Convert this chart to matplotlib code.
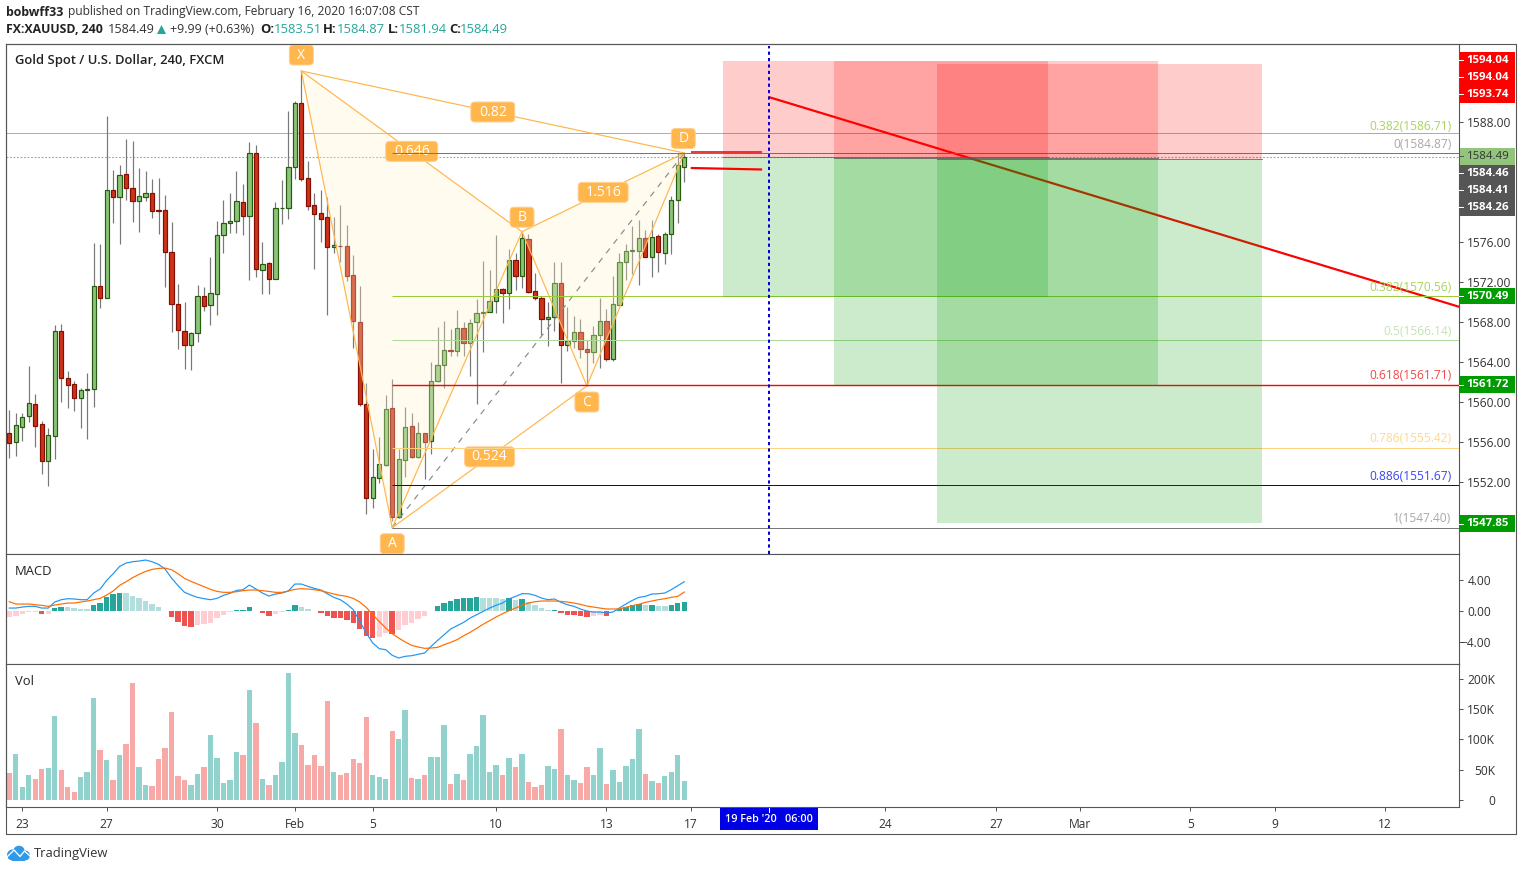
import matplotlib
matplotlib.use("Agg")
import matplotlib.pyplot as plt
from matplotlib.patches import Polygon, Rectangle, Circle, FancyBboxPatch

plt.rcParams['font.family'] = ['Open Sans', 'DejaVu Sans']

W, H = 1522, 871

# ---------- candles ----------
opens = [1556.86,1556.02,1557.52,1558.53,1559.77,1557.76,1554.11,1556.62,1567.09,1562.38,
         1561.78,1560.33,1561.20,1561.23,1571.60,1570.40,1581.13,1580.49,1582.74,1581.33,
         1580.09,1580.49,1580.83,1579.13,1579.13,1575.01,1569.80,1567.09,1565.69,1566.89,
         1570.60,1569.70,1570.76,1576.68,1577.88,1578.08,1579.93,1578.59,1584.84,1573.17,
         1573.91,1572.27,1579.33,1579.33,1583.50,1589.86,1582.34,1579.63,1578.83,1578.43,
         1575.48,1575.62,1575.62,1572.71,1567.99,1559.77,1550.40,1552.41,1553.71,1559.37,
         1548.50,1554.21,1557.56,1554.51,1556.86,1556.06,1562.08,1563.68,1565.15,1565.05,
         1567.39,1565.89,1567.95,1568.92,1568.96,1570.06,1571.30,1570.90,1574.21,1572.57,
         1576.32,1571.10,1570.40,1568.25,1568.50,1571.91,1565.65,1566.05,1566.99,1565.29,
         1564.94,1566.69,1568.09,1564.24,1569.66,1573.97,1575.11,1575.11,1576.42,1574.47,
         1576.62,1574.91,1576.82,1580.13,1583.51]
highs = [1559.20,1558.90,1558.90,1563.61,1560.80,1558.09,1557.39,1567.72,1567.82,1563.11,
         1562.11,1561.40,1562.91,1575.85,1575.75,1588.59,1583.17,1583.67,1586.28,1586.08,
         1583.37,1583.07,1582.27,1582.37,1580.66,1577.95,1571.74,1569.93,1567.02,1571.63,
         1571.46,1574.44,1578.05,1580.16,1580.86,1583.07,1581.77,1585.98,1585.68,1575.95,
         1573.94,1579.96,1582.17,1589.09,1590.09,1593.07,1584.07,1580.86,1581.16,1580.46,
         1578.46,1579.66,1577.65,1574.64,1571.53,1561.91,1555.29,1556.49,1560.70,1562.31,
         1555.29,1559.50,1558.90,1557.99,1556.89,1563.94,1567.52,1568.12,1567.32,1569.13,
         1568.02,1568.32,1570.23,1574.04,1573.14,1576.65,1571.33,1575.25,1574.87,1576.98,
         1576.75,1572.91,1570.53,1569.96,1573.97,1573.94,1569.46,1568.53,1568.32,1566.19,
         1567.59,1570.33,1569.23,1572.54,1574.87,1575.75,1577.55,1578.22,1577.15,1578.15,
         1576.75,1576.98,1580.56,1584.84,1584.87]
lows = [1554.41,1554.58,1556.09,1558.02,1555.49,1552.78,1551.57,1554.28,1560.00,1559.40,
        1559.10,1557.39,1556.29,1559.50,1569.36,1570.33,1577.88,1575.75,1580.16,1577.98,
        1576.98,1580.09,1578.39,1576.78,1571.46,1566.95,1565.25,1563.24,1563.14,1565.95,
        1569.06,1567.65,1568.70,1574.87,1576.88,1576.88,1576.65,1572.14,1572.44,1570.73,
        1570.73,1572.24,1577.75,1578.25,1582.27,1582.10,1579.16,1573.24,1575.95,1568.66,
        1574.90,1573.94,1572.07,1565.35,1559.60,1548.80,1549.40,1551.91,1553.58,1548.06,
        1548.40,1552.48,1554.41,1554.38,1552.31,1554.78,1562.00,1561.33,1564.61,1564.61,
        1564.61,1562.61,1559.77,1564.94,1568.93,1568.86,1567.85,1569.26,1571.13,1571.33,
        1570.83,1570.13,1566.72,1565.62,1567.12,1561.84,1565.12,1565.42,1564.38,1561.78,
        1563.84,1563.38,1564.04,1564.11,1569.63,1572.14,1572.81,1571.66,1574.44,1572.47,
        1572.97,1573.74,1574.74,1577.88,1581.94]
closes = [1555.92,1557.66,1558.47,1559.87,1557.62,1554.11,1556.66,1567.09,1562.34,1561.63,
          1560.33,1561.17,1561.25,1571.56,1570.36,1581.13,1580.49,1582.64,1581.39,1580.09,
          1580.53,1580.83,1579.09,1579.08,1575.01,1569.80,1567.19,1565.69,1566.89,1570.60,
          1569.60,1570.90,1576.72,1577.92,1578.12,1580.03,1578.59,1584.84,1573.27,1573.81,
          1572.27,1579.33,1579.38,1583.44,1589.86,1582.30,1579.59,1578.79,1578.28,1575.48,
          1575.72,1575.58,1572.57,1568.09,1559.77,1550.40,1552.45,1553.75,1559.27,1548.50,
          1554.25,1557.46,1554.51,1556.86,1556.02,1562.08,1563.68,1565.19,1565.05,1567.39,
          1565.89,1567.89,1568.90,1568.98,1570.10,1571.30,1570.86,1574.21,1572.57,1576.42,
          1570.96,1570.40,1568.25,1568.50,1571.91,1565.65,1566.05,1566.99,1565.25,1564.94,
          1566.69,1568.09,1564.24,1569.80,1574.01,1575.11,1575.17,1576.42,1574.47,1576.52,
          1575.01,1576.82,1580.13,1583.64,1584.49]

# ---------- MACD ----------
macd_hist = [-0.77,-0.65,-0.39,-0.17,-0.13,-0.39,-0.39,0.39,0.52,0.52,
             0.39,0.26,0.26,0.77,1.03,1.81,2.19,2.32,2.24,1.94,
             1.68,1.29,0.90,0.52,0.00,-0.77,-1.42,-1.94,-2.06,-1.81,
             -1.68,-1.55,-0.90,-0.52,-0.17,0.13,0.14,0.52,0.00,-0.26,
             -0.65,-0.39,-0.13,0.13,0.77,0.52,0.26,0.00,-0.26,-0.65,
             -0.90,-0.92,-1.16,-1.55,-2.32,-3.23,-3.48,-3.35,-2.84,-2.97,
             -2.45,-1.81,-1.55,-1.03,-0.65,0.00,0.65,1.03,1.29,1.55,
             1.68,1.70,1.81,1.68,1.68,1.68,1.55,1.68,1.42,1.55,
             1.16,0.77,0.39,0.13,0.14,-0.26,-0.52,-0.54,-0.65,-0.77,
             -0.65,-0.52,-0.65,0.00,0.26,0.52,0.77,0.90,0.77,0.79,
             0.65,0.65,0.77,1.03,1.16]
macd_line = [0.34,0.34,0.47,0.56,0.56,0.34,0.34,1.12,1.42,1.55,
             1.51,1.42,1.42,2.28,2.80,3.91,4.77,5.72,6.15,6.32,
             6.41,6.54,6.32,5.98,5.38,4.21,3.23,2.37,2.02,1.72,
             1.55,1.42,1.59,1.98,2.24,2.62,2.71,3.31,2.80,2.28,
             1.89,2.15,2.28,2.54,3.44,3.44,3.14,2.88,2.67,2.19,
             1.72,1.42,0.86,0.13,-1.38,-2.88,-4.17,-4.90,-5.03,-5.76,
             -6.11,-5.89,-5.81,-5.63,-5.46,-4.60,-3.83,-3.10,-2.37,-1.94,
             -1.51,-0.95,-0.52,-0.09,0.34,0.69,0.99,1.51,1.85,2.19,
             2.19,1.98,1.63,1.42,1.51,1.08,0.77,0.56,0.22,-0.04,
             -0.17,-0.17,-0.30,-0.17,0.34,0.86,1.33,1.72,1.85,2.15,
             2.19,2.28,2.71,3.23,3.74]
signal_line = [1.16,0.86,0.86,0.86,0.77,0.69,0.56,0.73,0.86,0.99,
               0.99,1.12,1.25,1.42,1.59,2.02,2.54,3.27,3.74,4.26,
               4.69,5.07,5.33,5.46,5.50,5.29,4.77,4.17,3.78,3.44,
               3.10,2.75,2.49,2.37,2.37,2.45,2.58,2.67,2.67,2.58,
               2.49,2.37,2.37,2.54,2.75,2.84,2.80,2.71,2.58,2.37,
               2.15,1.98,1.85,1.59,1.12,0.43,-0.52,-1.38,-2.24,-2.97,
               -3.53,-4.04,-4.47,-4.69,-4.86,-4.82,-4.73,-4.39,-4.09,-3.74,
               -3.23,-2.80,-2.28,-1.76,-1.29,-0.82,-0.39,0.00,0.34,0.69,
               0.99,1.16,1.25,1.25,1.25,1.20,1.12,0.99,0.82,0.60,
               0.47,0.34,0.22,0.22,0.22,0.43,0.65,0.82,1.08,1.25,
               1.42,1.55,1.72,1.85,2.41]

# ---------- Volume (thousands) ----------
volumes = [44.6,76.0,21.5,41.3,34.7,51.2,52.9,138.9,49.6,21.5,
           13.2,38.0,46.3,168.6,82.7,66.1,33.1,74.4,92.6,193.4,
           54.5,24.8,23.1,67.8,86.0,145.5,39.7,33.1,24.8,43.0,
           54.5,107.4,69.4,28.1,33.1,79.3,74.4,181.8,127.3,34.7,
           24.8,41.3,62.8,209.9,110.8,90.9,57.9,74.4,56.2,163.6,
           46.3,41.3,44.6,67.8,61.2,137.2,41.3,38.0,34.7,114.1,
           100.8,148.8,36.4,34.7,41.3,71.1,71.1,124.0,26.4,43.0,
           33.1,76.0,89.3,140.5,46.3,57.9,41.3,69.4,54.5,76.0,
           29.8,21.5,24.8,56.2,51.2,117.4,41.3,33.1,28.1,54.5,
           41.3,86.0,26.4,49.6,29.8,56.2,67.8,117.4,43.0,31.4,
           28.1,39.7,46.3,74.4,31.4]

# ---------- drawings ----------
pattern_names = ['X', 'A', 'B', 'C', 'D']
pattern_bars = [45, 59, 79, 89, 104]
pattern_prices = [1593.07, 1547.40, 1577.00, 1561.57, 1584.87]
ratio_labels = ['0.82', '0.646', '0.524', '1.516']

fib_start_bar = 59
fib_levels = [0, 0.382, 0.5, 0.618, 0.786, 0.886, 1]
fib_prices = [1584.87, 1570.56, 1566.14, 1561.71, 1555.42, 1551.67, 1547.40]
fib_colors = ['#787878', '#9ccc3c', '#aed89a', '#ff0000', '#ffd27f', '#0000d0', '#787878']
fib_widths = [1.0, 1.0, 1.0, 1.4, 1.0, 1.0, 1.0]
fib_text_colors = ['#a8a8a8', '#a8d45c', '#c6e2b6', '#f0484c', '#ffd88c', '#3a46f0', '#a8a8a8']
upper_fib_text = '0.382(1586.71)'
upper_fib_line = 1586.84
last_price = 1584.49

zone_start = [110, 127, 143]
zone_end = [160, 177, 193]
zone_stop = [1594.04, 1594.04, 1593.74]
zone_entry = [1584.46, 1584.41, 1584.26]
zone_target = [1570.49, 1561.72, 1547.85]

vline_bar = 117
trend_bars = [117, 224]
trend_prices = [1590.47, 1569.37]
stub_bars = [105, 116]
stub_upper = [1585.00, 1585.00]
stub_lower = [1583.37, 1583.22]

price_ticks = [1552, 1556, 1560, 1564, 1568, 1572, 1576, 1588]
macd_ticks = [-4, 0, 4]
vol_ticks = [0, 50, 100, 150, 200]
date_bars = [2, 15, 32, 44, 56, 75, 92, 105, 135, 152, 165, 182, 195, 212]
date_labels = ['23', '27', '30', 'Feb', '5', '10', '13', '17', '24', '27', 'Mar', '5', '9', '12']

# ---------- layout (pixels) ----------
L, R = 6.3, 1459.3
T1, B1 = 43.7, 554.3
B2, B3 = 664.3, 807.3
OUTER_R, OUTER_B = 1515.5, 834.3
BORDER = '#555555'
PX = 0.72
BAR_PX = 6.49
PRICE_PX = 10.0


def pane(top, bottom):
    return fig.add_axes([L / W, 1 - bottom / H, (R - L) / W, (bottom - top) / H])


fig = plt.figure(figsize=(W / 100, H / 100), dpi=100, facecolor='white')
ax = pane(T1, B1)
am = pane(B1, B2)
av = pane(B2, B3)

x0 = (L - 9.3) / BAR_PX
x1 = (R - 9.3) / BAR_PX
for a in (ax, am, av):
    a.set_xlim(x0, x1)
    a.yaxis.tick_right()
    for s in a.spines.values():
        s.set_color(BORDER)
        s.set_linewidth(1.1 * PX)
    a.set_xticks([])
ax.set_ylim(1544.74, 1595.80)
am.set_ylim(-6.92, 7.28)
av.set_ylim(-12.07, 224.3)

bars = list(range(len(closes)))
up = [c >= o for o, c in zip(opens, closes)]

# price pane
ax.axhline(upper_fib_line, color='#9ccc3c', lw=1.0 * PX, zorder=1.5)
ax.axhline(last_price, color='#7fbf6a', lw=1.1 * PX, ls=(0, (1.6, 1.6)), zorder=1)
ax.vlines(bars, lows, highs, color='#787878', lw=1.2 * PX, zorder=2)
ax.bar(bars, [abs(c - o) for o, c in zip(opens, closes)],
       bottom=[min(o, c) for o, c in zip(opens, closes)], width=0.66,
       color=['#8cc47a' if u else '#cc3418' for u in up],
       edgecolor=['#265c10' if u else '#850e04' for u in up], linewidth=1.2 * PX, zorder=2.2)

pts = list(zip(pattern_bars, pattern_prices))
X, A, B, C, D = pts
ax.plot(trend_bars, trend_prices, color='#ff0000', lw=2.2 * PX, zorder=2.6, solid_capstyle='butt')
for tri in ([X, A, B], [B, C, D]):
    ax.add_patch(Polygon(tri, closed=True, facecolor=(1, 0.96, 0.80), alpha=0.3, lw=0, zorder=3))
ORANGE = '#ffb74d'
ax.plot([A[0], D[0]], [A[1], D[1]], color='#8c8c8c', lw=1.2 * PX, ls=(0, (5, 5)), zorder=3.4)
for p, q in ((X, A), (A, B), (B, C), (C, D), (X, B), (A, C), (B, D), (X, D)):
    ax.plot([p[0], q[0]], [p[1], q[1]], color=ORANGE, lw=1.2 * PX, zorder=3.5)


def badge(cx, cy, text, wpx, hpx=20):
    """Rounded label of a fixed pixel size centred on a data point."""
    w, h = wpx / BAR_PX, hpx / PRICE_PX
    ax.add_patch(FancyBboxPatch((cx - w / 2, cy - h / 2), w, h,
                                boxstyle=f'round,pad=0,rounding_size={4 / BAR_PX:.3f}',
                                mutation_aspect=BAR_PX / PRICE_PX,
                                fc=ORANGE, ec='#ffcf94', lw=0.7, zorder=4.4))
    ax.text(cx, cy, text, color='white', ha='center', va='center', fontsize=14 * PX, zorder=4.5)


offsets = {'X': 16, 'A': -16, 'B': 14.5, 'C': -16, 'D': 14.5}
for name, pt in zip(pattern_names, pts):
    badge(pt[0] - (1 / BAR_PX if name == 'D' else 0), pt[1] + offsets[name] / PRICE_PX, name, 24)
widths = [44, 52, 50, 50]
for text, (p, q), wpx in zip(ratio_labels, ((X, D), (X, B), (A, C), (B, D)), widths):
    badge((p[0] + q[0]) / 2, (p[1] + q[1]) / 2, text, wpx)

for price, col, lw in zip(fib_prices, fib_colors, fib_widths):
    ax.plot([fib_start_bar, x1], [price, price], color=col, lw=lw * PX, zorder=5, solid_capstyle='butt')
for s, e, st, en, tg in zip(zone_start, zone_end, zone_stop, zone_entry, zone_target):
    ax.add_patch(Rectangle((s, en), e - s, st - en, facecolor='#ff0000', alpha=0.2, lw=0, zorder=5.5))
    ax.add_patch(Rectangle((s, tg), e - s, en - tg, facecolor='#009b00', alpha=0.2, lw=0, zorder=5.5))
    ax.plot([s, e], [en, en], color='#5a5a5a', lw=1.0 * PX, alpha=0.75, zorder=5.6)
ax.plot(stub_bars, stub_upper, color='#e01010', lw=1.6 * PX, zorder=4, solid_capstyle='butt')
ax.plot(stub_bars, stub_lower, color='#ff0000', lw=2.2 * PX, zorder=6, solid_capstyle='butt')
ax.axvline(vline_bar, ymin=0, ymax=0.995, color='#0000e0', lw=2 * PX, ls=(0, (1.6, 1.6)), zorder=6.5)

FIB_FS = 12 * PX
ax.text(x1 - 8 / BAR_PX, upper_fib_line, upper_fib_text, color='#a8d45c', ha='right', va='bottom',
        fontsize=FIB_FS, zorder=7)
for lvl, price, tc in zip(fib_levels, fib_prices, fib_text_colors):
    ax.annotate(f'{lvl}({price:.2f})', (x1 - 8 / BAR_PX, price), xytext=(0, 1.6), textcoords='offset points',
                color=tc, ha='right', va='bottom', fontsize=FIB_FS, zorder=7)

# MACD pane
strong = []
for i, v in enumerate(macd_hist):
    prev = macd_hist[i - 1] if i else v
    strong.append(v > prev if v >= 0 else v < prev)
hist_cols = [('#26a69a' if s else '#b2dfdb') if v >= 0 else ('#ef5350' if s else '#ffcdd2')
             for v, s in zip(macd_hist, strong)]
am.bar(bars, macd_hist, width=0.84, color=hist_cols, lw=0, zorder=2)
am.plot(bars, macd_line, color='#2196f3', lw=1.2 * PX, zorder=3)
am.plot(bars, signal_line, color='#ff6d00', lw=1.2 * PX, zorder=3.5)

# Volume pane
av.bar(bars, volumes, width=0.83, color=['#92d2cc' if u else '#f7a9a7' for u in up], lw=0)

# axes ticks
TXT = '#333333'
FS = 12 * PX
ax.set_yticks(price_ticks, [f'{p:.2f}' for p in price_ticks])
am.set_yticks(macd_ticks, [f'{p:.2f}'.replace('-', '\u2212') for p in macd_ticks])
av.set_yticks(vol_ticks, [f'{v}K' if v else '0' for v in vol_ticks])
for a, right_px in ((ax, 1511), (am, 1491), (av, 1495)):
    a.tick_params(axis='y', length=4 * PX, width=1 * PX, color=BORDER, labelsize=FS, labelcolor=TXT,
                  pad=(right_px - R - 4) * PX)
    for t in a.get_yticklabels():
        t.set_ha('right')
av.set_xticks(date_bars, date_labels)
av.tick_params(axis='x', length=4 * PX, width=1 * PX, color=BORDER, labelsize=FS, labelcolor=TXT, pad=4.5)

# ---------- chrome in pixel space ----------
ov = fig.add_axes([0, 0, 1, 1], zorder=10)
ov.set_xlim(0, W)
ov.set_ylim(H, 0)
ov.axis('off')
ov.patch.set_alpha(0)

ov.plot([L, OUTER_R, OUTER_R, L, L], [T1, T1, OUTER_B, OUTER_B, T1], color=BORDER, lw=1.1 * PX)

F13 = 13 * PX
ov.text(15, 60.5, 'Gold Spot / U.S. Dollar, 240, FXCM', fontsize=F13, weight='semibold', color='#222222', va='center')
ov.text(15, 571.5, 'MACD', fontsize=F13, color='#222222', va='center')
ov.text(15, 681.5, 'Vol', fontsize=F13, color='#222222', va='center')

ov.text(6, 12, 'bobwff33', fontsize=12.4 * PX, weight='bold', color='#222222', va='center')
ov.text(68, 12, 'published on TradingView.com, February 16, 2020 16:07:08 CST', fontsize=12 * PX, color='#333333', va='center')
ov.text(6, 29.5, 'FX:XAUUSD, 240', fontsize=12.2 * PX, weight='bold', color='#222222', va='center')
ov.text(108, 29.5, '1584.49', fontsize=12.6 * PX, color='#333333', va='center')
ov.add_patch(Polygon([(157, 34), (166, 34), (161.5, 25)], closed=True, fc='#26a69a', lw=0))
ov.text(170, 29.5, '+9.99 (+0.63%)', fontsize=12.4 * PX, color='#333333', va='center')
TEAL = '#26a69a'
for lab, lx, val, vx in (('O:', 260, '1583.51', 274), ('H:', 323, '1584.87', 337),
                         ('L:', 388, '1581.94', 399), ('C:', 449, '1584.49', 460)):
    ov.text(lx, 29.5, lab, fontsize=F13, weight='bold', color='#222222', va='center')
    ov.text(vx, 29.5, val, fontsize=F13, color=TEAL, va='center')


def tag(top, bottom, labels, ys, fc, tc='white', weight='bold'):
    ov.add_patch(Rectangle((R + 0.5, top), OUTER_R - R - 1, bottom - top, fc=fc, lw=0))
    for s, y in zip(labels, ys):
        ov.text(1488, y, s, color=tc, ha='center', va='center', fontsize=11.5 * PX, weight=weight)
        ov.plot([R, R + 4], [y, y], color=tc if tc == 'white' else BORDER, lw=1 * PX)


tag(52, 102.7, ['1594.04', '1594.04', '1593.74'], [60.5, 77.5, 94.5], '#ff0000')
tag(148, 165, ['1584.49'], [156.5], '#93c47d', tc='#333333', weight='normal')
tag(165, 215.7, ['1584.46', '1584.41', '1584.26'], [173.5, 190.5, 207.5], '#555555')
tag(287.7, 304.4, ['1570.49'], [296], '#009b00')
tag(376, 392.7, ['1561.72'], [384.5], '#009b00')
tag(515, 531.7, ['1547.85'], [523.5], '#009b00')

ov.add_patch(Rectangle((720, B3 + 0.6), 98, 22.5, fc='#0000e6', lw=0))
ov.plot([769, 769], [B3 + 0.6, B3 + 5], color='white', lw=1 * PX)
ov.text(769, 819.5, "19 Feb '20   06:00", color='white', ha='center', va='center', fontsize=10.8 * PX, weight='semibold')

LOGO = '#2e9ae8'
for cx, cy, r in ((12.5, 855, 5.5), (19, 851.5, 5.8), (25, 855.5, 5)):
    ov.add_patch(Circle((cx, cy), r, fc=LOGO, lw=0))
ov.add_patch(Rectangle((12, 855), 13, 5.5, fc=LOGO, lw=0))
ov.plot([7, 14, 20, 24.5, 31], [857, 850, 856.5, 851, 857], color='white', lw=1.3 * PX)
ov.text(34, 853, 'TradingView', fontsize=F13, color='#333333', va='center')

fig.savefig('out.png', dpi=100, facecolor='white')
